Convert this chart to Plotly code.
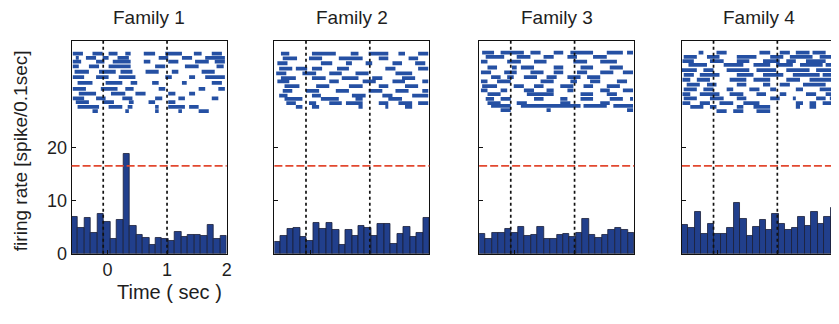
import plotly.graph_objects as go

OFF = 8                      # default body margin of the html page
W, H = 839 - OFF, 324 - 2 * OFF

families = ["Family 1", "Family 2", "Family 3", "Family 4"]

# 24 histogram bins spanning -0.6 .. 2.0 s
n_bins = 24
bin_width = 2.6 / n_bins
bin_centers = [-0.6 + (i + 0.5) * bin_width for i in range(n_bins)]

rate_f1 = [6.9, 4.8, 6.7, 4.0, 7.5, 6.0, 2.8, 6.4, 18.8, 5.2, 3.6, 3.0,
           1.6, 3.0, 2.7, 2.4, 4.1, 3.1, 3.5, 3.5, 3.3, 5.5, 2.8, 3.4]
rate_f2 = [2.3, 3.4, 4.7, 4.9, 3.2, 2.5, 5.8, 4.6, 5.8, 4.5, 1.6, 4.5,
           3.3, 5.2, 4.9, 3.4, 5.7, 5.7, 1.8, 3.8, 5.0, 3.1, 3.9, 6.7]
rate_f3 = [3.7, 2.8, 4.0, 4.0, 4.7, 4.0, 5.0, 3.3, 3.5, 5.0, 2.8, 2.8,
           3.5, 3.7, 3.2, 4.0, 6.6, 3.5, 3.0, 3.5, 4.5, 4.8, 4.5, 4.0]
rate_f4 = [5.4, 4.8, 7.8, 3.7, 5.7, 3.7, 3.7, 4.8, 9.6, 6.6, 3.4, 5.1,
           6.3, 4.5, 7.5, 5.7, 4.4, 4.8, 6.9, 5.2, 7.8, 5.6, 7.0, 8.7]

threshold = [16.5, 16.5, 16.5, 16.5]
event_times = [-0.07, 1.0]

# Raster: row heights and spike runs (start, end) in seconds for each row
rows_f1 = [37.6, 36.8, 36.1, 35.2, 34.2, 33.2, 32.1, 31.0, 30.1, 29.2, 28.5, 27.6, 26.8]
raster_f1 = [
    [(-0.58, -0.41), (-0.25, -0.08), (0.02, 0.17), (0.30, 0.39), (0.61, 0.80), (0.97, 1.25), (1.45, 1.58), (1.75, 1.92)],
    [(-0.53, -0.48), (-0.36, -0.19), (-0.08, 0.02), (0.17, 0.36), (0.86, 1.02), (1.25, 1.42), (1.64, 1.97)],
    [(-0.58, -0.44), (-0.19, -0.05), (0.09, 0.39), (0.61, 0.72), (1.02, 1.19), (1.47, 1.70), (1.80, 1.97)],
    [(-0.58, -0.48), (-0.31, -0.14), (0.02, 0.39), (0.80, 0.97), (1.30, 1.53), (1.83, 1.95)],
    [(-0.55, -0.31), (-0.14, 0.14), (0.22, 0.42), (0.64, 0.86), (1.08, 1.19), (1.58, 1.80)],
    [(-0.58, -0.39), (-0.19, 0.02), (0.19, 0.47), (0.97, 1.08), (1.37, 1.47), (1.64, 1.97)],
    [(-0.50, -0.25), (-0.03, 0.25), (0.39, 0.50), (0.75, 0.86), (1.25, 1.33), (1.75, 1.92)],
    [(-0.58, -0.36), (-0.11, 0.17), (0.30, 0.44), (0.86, 0.97), (1.53, 1.64), (1.86, 1.97)],
    [(-0.48, -0.19), (0.06, 0.30), (0.47, 0.64), (1.02, 1.14), (1.37, 1.47)],
    [(-0.58, -0.39), (-0.19, -0.03), (0.25, 0.42), (0.80, 0.92), (1.19, 1.30), (1.75, 1.86)],
    [(-0.53, -0.31), (-0.08, 0.11), (0.36, 0.44), (0.69, 0.80), (1.02, 1.14)],
    [(-0.50, -0.14), (0.02, 0.25), (0.34, 0.42), (0.80, 0.86), (1.02, 1.30), (1.37, 1.53)],
    [(-0.25, -0.16), (0.30, 0.36), (0.80, 0.86), (1.19, 1.25), (1.53, 1.70)],
]

rows_f2 = [37.6, 36.7, 35.8, 34.8, 33.9, 33.0, 32.4, 31.5, 30.6, 29.7, 29.1, 28.3, 27.6]
raster_f2 = [
    [(-0.49, -0.35), (0.03, 0.43), (0.68, 0.81), (0.98, 1.31), (1.48, 1.59), (1.81, 1.98)],
    [(-0.46, -0.22), (-0.02, 0.20), (0.48, 0.88), (1.15, 1.31), (1.65, 1.81)],
    [(-0.55, -0.38), (0.18, 0.37), (0.60, 0.70), (0.93, 1.04), (1.38, 1.54), (1.76, 1.93)],
    [(-0.52, -0.30), (-0.24, -0.05), (0.03, 0.20), (0.45, 0.65), (1.26, 1.43), (1.81, 1.98)],
    [(-0.57, -0.40), (-0.13, 0.10), (0.32, 0.53), (0.76, 0.98), (1.43, 1.71)],
    [(-0.49, -0.24), (0.03, 0.26), (0.53, 0.81), (1.04, 1.21), (1.54, 1.76)],
    [(-0.55, -0.35), (0.32, 0.48), (0.88, 1.10), (1.38, 1.59), (1.88, 1.98)],
    [(-0.43, -0.18), (0.10, 0.32), (0.65, 0.88), (1.15, 1.31), (1.59, 1.81)],
    [(-0.46, -0.30), (-0.07, 0.15), (0.43, 0.65), (0.98, 1.21), (1.43, 1.65), (1.88, 1.98)],
    [(-0.52, -0.38), (0.03, 0.18), (0.70, 0.93), (1.21, 1.38), (1.71, 1.98)],
    [(-0.43, -0.13), (0.18, 0.48), (0.76, 0.88), (1.31, 1.54)],
    [(-0.40, -0.24), (-0.02, 0.10), (0.32, 0.53), (0.60, 0.88), (1.15, 1.31), (1.48, 1.71), (1.81, 1.98)],
    [(-0.24, -0.13), (0.03, 0.15), (0.81, 0.88), (1.26, 1.31), (1.59, 1.71)],
]

rows_f3 = [37.8, 37.0, 36.1, 35.0, 34.1, 33.2, 32.4, 31.5, 30.7, 30.0, 29.1, 28.3, 27.8, 27.0]
raster_f3 = [
    [(-0.55, -0.35), (-0.24, 0.15), (0.26, 0.43), (0.65, 0.81), (0.93, 1.31), (1.54, 1.81), (1.88, 1.98)],
    [(-0.49, -0.18), (0.03, 0.26), (0.48, 0.65), (0.88, 1.04), (1.31, 1.54)],
    [(-0.57, -0.46), (-0.13, 0.10), (0.32, 0.53), (0.98, 1.21), (1.43, 1.71)],
    [(-0.46, -0.30), (-0.05, 0.03), (0.10, 0.32), (0.65, 0.81), (1.10, 1.31), (1.59, 1.81)],
    [(-0.57, -0.40), (-0.18, 0.03), (0.26, 0.48), (0.65, 0.81), (1.04, 1.21), (1.43, 1.65), (1.81, 1.98)],
    [(-0.40, -0.24), (-0.13, -0.02), (0.15, 0.37), (0.53, 0.70), (0.88, 1.10), (1.21, 1.43)],
    [(-0.57, -0.46), (-0.30, -0.07), (0.43, 0.65), (0.93, 1.04), (1.26, 1.43), (1.71, 1.88)],
    [(-0.55, -0.30), (-0.02, 0.15), (0.32, 0.48), (0.76, 0.98), (1.15, 1.31), (1.54, 1.76)],
    [(-0.57, -0.46), (-0.24, -0.13), (0.15, 0.32), (0.53, 0.65), (0.88, 0.98), (1.43, 1.59), (1.81, 1.98)],
    [(-0.46, -0.24), (0.20, 0.65), (1.10, 1.31), (1.54, 1.71)],
    [(-0.49, -0.35), (-0.24, -0.07), (0.32, 0.48), (0.76, 0.88), (1.10, 1.31), (1.59, 1.81), (1.93, 1.98)],
    [(-0.46, -0.24), (0.03, 0.20), (0.76, 0.93), (1.43, 1.59)],
    [(-0.40, -0.07), (0.10, 1.10), (1.15, 1.54), (1.65, 1.98)],
    [(-0.24, -0.07), (0.53, 0.60), (1.88, 1.98)],
]

rows_f4 = [37.8, 37.0, 36.2, 35.5, 34.5, 33.6, 32.7, 31.8, 30.9, 30.0, 29.2, 28.3, 27.6, 26.8]
raster_f4 = [
    [(-0.32, -0.24), (-0.02, 0.15), (0.70, 0.88), (1.04, 1.21), (1.31, 1.54), (1.59, 1.81)],
    [(-0.57, -0.35), (-0.18, 0.03), (0.32, 0.65), (0.88, 1.10), (1.21, 1.59), (1.71, 1.95)],
    [(-0.59, -0.40), (-0.13, 0.10), (0.32, 0.53), (0.76, 1.04), (1.15, 1.31), (1.48, 1.81)],
    [(-0.49, -0.18), (0.10, 0.43), (0.60, 0.88), (0.98, 1.26), (1.38, 1.76), (1.81, 1.95)],
    [(-0.60, -0.35), (-0.24, -0.07), (0.15, 0.53), (0.65, 0.98), (1.15, 1.54), (1.65, 1.95)],
    [(-0.57, -0.40), (-0.30, 0.03), (0.32, 0.60), (0.76, 1.10), (1.26, 1.71), (1.76, 1.95)],
    [(-0.59, -0.46), (-0.35, -0.13), (0.20, 0.48), (0.60, 0.88), (1.15, 1.38), (1.54, 1.95)],
    [(-0.52, -0.30), (-0.18, -0.02), (0.32, 0.48), (0.76, 0.88), (1.04, 1.21), (1.43, 1.81)],
    [(-0.57, -0.35), (-0.24, -0.07), (0.15, 0.26), (0.53, 0.70), (0.88, 0.98), (1.31, 1.43), (1.71, 1.95)],
    [(-0.59, -0.46), (-0.30, 0.03), (0.20, 0.43), (0.65, 0.81), (1.04, 1.15), (1.48, 1.65), (1.81, 1.95)],
    [(-0.57, -0.35), (-0.13, 0.10), (0.32, 0.48), (0.88, 1.04), (1.26, 1.31), (1.65, 1.81), (1.88, 1.95)],
    [(-0.59, -0.46), (-0.30, -0.13), (0.03, 0.26), (0.43, 0.70), (1.31, 1.43), (1.54, 1.65), (1.76, 1.95)],
    [(-0.46, -0.24), (-0.13, -0.02), (0.32, 0.43), (0.60, 0.88), (1.31, 1.38), (1.54, 1.65)],
    [(-0.02, 0.15), (0.26, 0.43), (0.65, 0.88)],
]

rates = [rate_f1, rate_f2, rate_f3, rate_f4]
rows_all = [rows_f1, rows_f2, rows_f3, rows_f4]
rasters = [raster_f1, raster_f2, raster_f3, raster_f4]

x_ticks = [0, 1, 2]
y_ticks = [0, 10, 20]
x_ranges = [[-0.6, 2.0], [-0.6, 2.0], [-0.6, 2.0], [-0.6, 1.95]]
y_range = [0, 40]

# layout in page pixels
panel_px = [(72, 228), (276, 432), (482, 638), (686, 839)]
top_px, bottom_px = 42, 262


def px_x(p):
    return (p - OFF) / W


def px_y(p):
    return 1 - (p - OFF) / H


y_dom = [px_y(bottom_px), px_y(top_px)]

BAR_FILL = "#213f8c"
BAR_EDGE = "#1a2038"
DOT = "#2550a3"
RED = "#e2482f"
FONT = "Liberation Sans, Arial, sans-serif"
TXT = "#1e1e1e"

fig = go.Figure()
shapes = []
annotations = []
layout_axes = {}

for k in range(4):
    n = k + 1
    xa = "x" if n == 1 else f"x{n}"
    ya = "y" if n == 1 else f"y{n}"

    fig.add_trace(go.Bar(
        x=bin_centers, y=rates[k], width=bin_width,
        marker=dict(color=BAR_FILL, line=dict(color=BAR_EDGE, width=0.8)),
        xaxis=xa, yaxis=ya, showlegend=False, hoverinfo="skip"))

    xs, ys = [], []
    for row_y, runs in zip(rows_all[k], rasters[k]):
        for s, e in runs:
            xs += [s, e, None]
            ys += [row_y, row_y, None]
    fig.add_trace(go.Scatter(
        x=xs, y=ys, mode="lines",
        line=dict(color=DOT, width=3.8),
        xaxis=xa, yaxis=ya, showlegend=False, hoverinfo="skip"))

    x0, x1 = panel_px[k]
    layout_axes["xaxis" if n == 1 else f"xaxis{n}"] = dict(
        domain=[px_x(x0), min(1.0, px_x(x1))], range=x_ranges[k], anchor=ya,
        showline=True, linecolor="#111", linewidth=1, mirror=True,
        ticks="inside", ticklen=4, tickcolor="#111", tickvals=x_ticks,
        showticklabels=(n == 1), showgrid=False, zeroline=False,
        tickfont=dict(family=FONT, size=18, color=TXT))
    layout_axes["yaxis" if n == 1 else f"yaxis{n}"] = dict(
        domain=y_dom, range=y_range, anchor=xa,
        showline=True, linecolor="#111", linewidth=1, mirror=(n != 4),
        ticks="inside", ticklen=4, tickcolor="#111", tickvals=y_ticks,
        showticklabels=(n == 1), showgrid=False, zeroline=False,
        tickfont=dict(family=FONT, size=18, color=TXT))

    shapes.append(dict(type="line", xref=f"{xa} domain", yref=ya,
                       x0=0, x1=1, y0=threshold[k], y1=threshold[k],
                       line=dict(color=RED, width=1.7, dash="8px,3px")))
    for t in event_times:
        shapes.append(dict(type="line", xref=xa, yref=f"{ya} domain",
                           x0=t, x1=t, y0=0, y1=1,
                           line=dict(color="#111", width=1.7, dash="dot")))

    title_x = (x0 + x1) / 2 if n != 4 else 764
    annotations.append(dict(text=families[k], xref="paper", yref="paper",
                            x=px_x(title_x), y=px_y(18),
                            xanchor="center", yanchor="middle",
                            showarrow=False,
                            font=dict(family=FONT, size=19, color=TXT)))

annotations.append(dict(text="Time ( sec )", xref="paper", yref="paper",
                        x=px_x(170), y=px_y(302), xanchor="center", yanchor="middle",
                        showarrow=False, font=dict(family=FONT, size=20, color=TXT)))
annotations.append(dict(text="firing rate [spike/0.1sec]", xref="paper", yref="paper",
                        x=px_x(20), y=px_y(155), xanchor="center", yanchor="middle",
                        textangle=-90, showarrow=False,
                        font=dict(family=FONT, size=19, color=TXT)))

fig.update_layout(
    width=W, height=H, margin=dict(l=0, r=0, t=0, b=0),
    paper_bgcolor="white", plot_bgcolor="white",
    bargap=0, shapes=shapes, annotations=annotations, **layout_axes)

fig.write_html("out.html")
